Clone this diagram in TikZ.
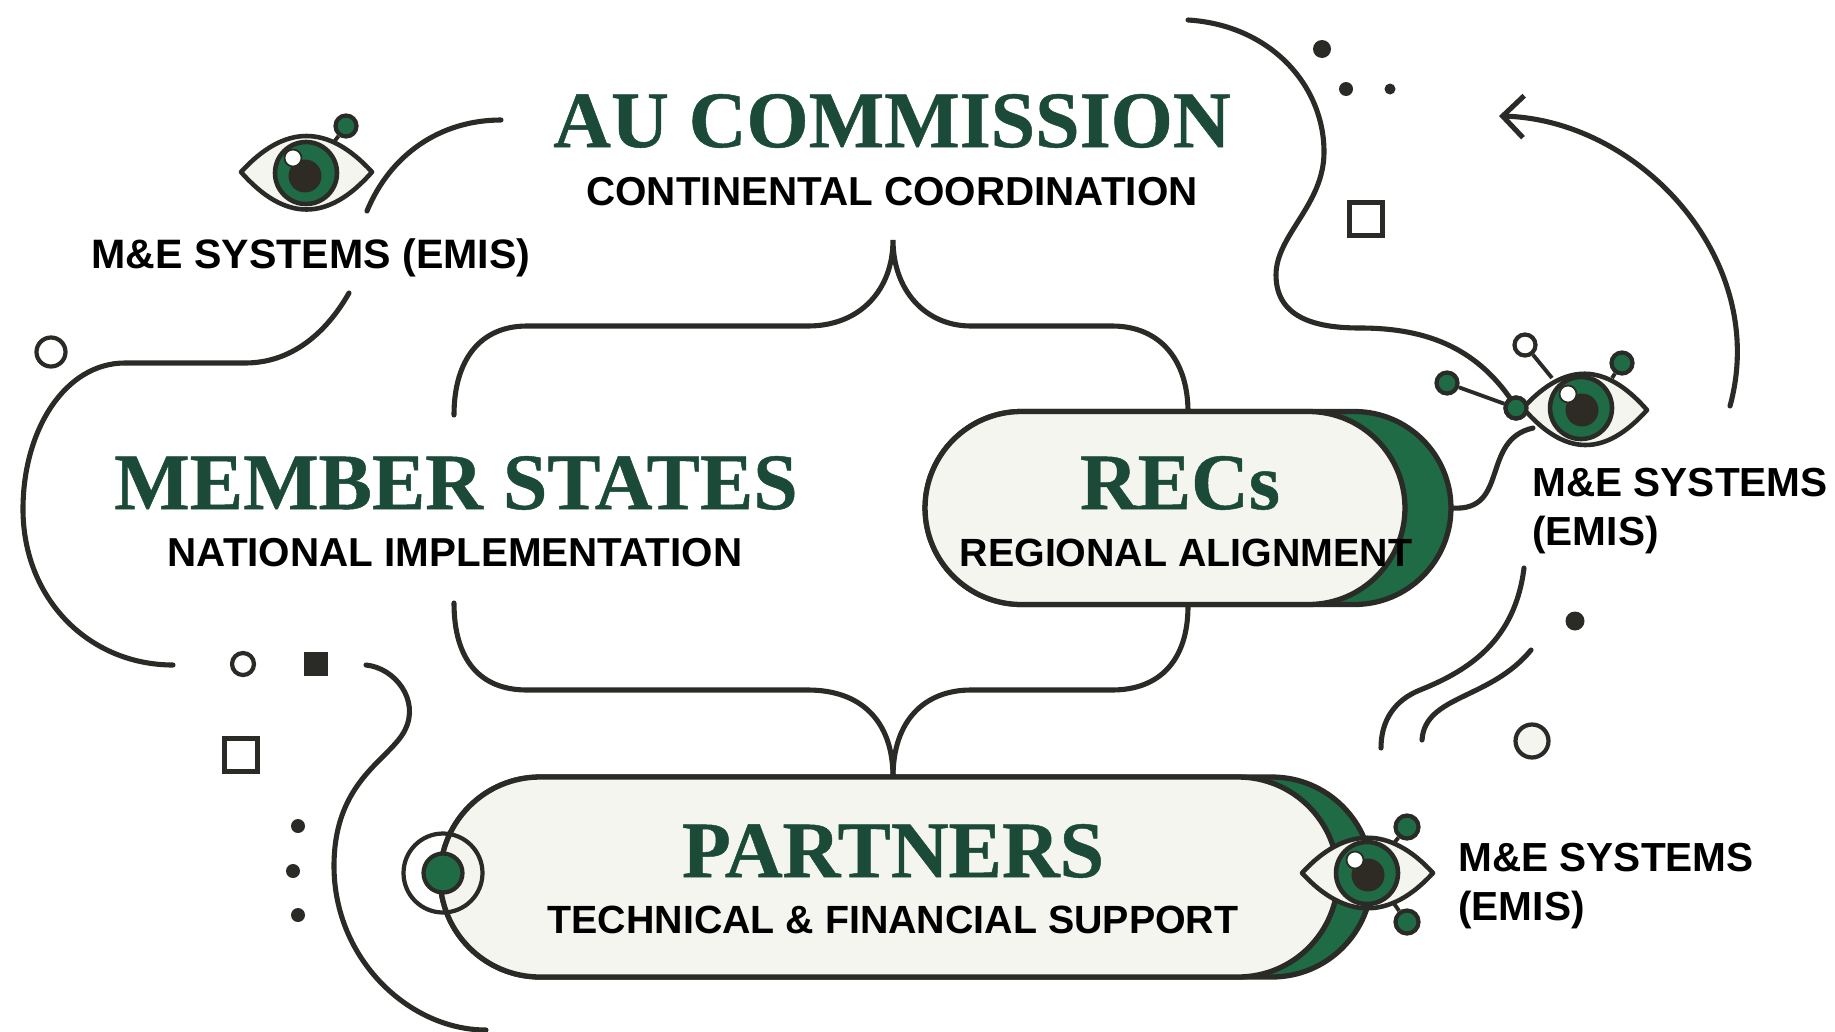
\documentclass[tikz,border=0pt]{standalone}
\usepackage{fontspec}
\setmainfont[BoldFeatures={FakeBold=0.6}]{Liberation Serif}
\setsansfont{Liberation Sans}
\usetikzlibrary{shapes.misc, arrows.meta}
\definecolor{inkline}{HTML}{2A2A26}
\definecolor{titlegreen}{HTML}{1C4A38}
\definecolor{irisgreen}{HTML}{1F6B45}
\definecolor{bodyfill}{HTML}{F5F5F0}
\definecolor{pupilfill}{HTML}{2E2A24}

\begin{document}
\begin{tikzpicture}[x = 0.02cm, y = -0.02cm,
                      curve/.style = {draw = inkline, line width = 2.9pt, line cap = round},
                      thinline/.style = {draw = inkline, line width = 2.2pt},
                      capsuleback/.style = {rounded rectangle, draw = inkline, fill = irisgreen, line width = 3pt, inner sep = 0pt},
                      capsule/.style = {rounded rectangle, draw = inkline, fill = bodyfill, line width = 3pt, inner sep = 0pt},
                      lens/.style = {draw = inkline, fill = bodyfill, line width = 2.6pt, line join = round},
                      iris/.style = {circle, draw = inkline, fill = irisgreen, line width = 2.6pt, minimum size = 1.24cm, inner sep = 0pt},
                      pupil/.style = {circle, fill = pupilfill, minimum size = 0.66cm, inner sep = 0pt},
                      glint/.style = {circle, draw = inkline, fill = white, line width = 1pt, minimum size = 0.34cm, inner sep = 0pt},
                      hub/.style = {circle, draw = inkline, fill = irisgreen, line width = 2.4pt, minimum size = 0.42cm, inner sep = 0pt},
                      hollow/.style = {circle, draw = inkline, fill = white, line width = 2.4pt, inner sep = 0pt},
                      solid/.style = {circle, fill = inkline, inner sep = 0pt},
                      boxmark/.style = {rectangle, draw = inkline, fill = white, line width = 2.4pt, inner sep = 0pt},
                      bigtitle/.style = {text = titlegreen, inner sep = 0pt, font = \bfseries\fontsize{45.5}{46}\selectfont},
                      subtitle/.style = {text = black, inner sep = 0pt, font = \sffamily\bfseries\fontsize{23}{23}\selectfont},
                      tightsub/.style = {text = black, inner sep = 0pt, font = \sffamily\bfseries\fontsize{22.4}{23}\selectfont},
                      sidelabel/.style = {text = black, inner sep = 0pt, font = \sffamily\bfseries\fontsize{23.4}{28}\selectfont},
                      sideblock/.style = {text = black, inner sep = 0pt, align = left, anchor = north west, font = \sffamily\bfseries\fontsize{23.1}{27.6}\selectfont}]
    \useasboundingbox (0, 0) rectangle (1835, 1031);

    % free ends of the lines
    \coordinate (topleft) at (454, 415);
    \coordinate (topright) at (1188, 412);
    \coordinate (toptip) at (893, 240);
    \coordinate (lowleft) at (454, 603);
    \coordinate (lowright) at (1188, 606);
    \coordinate (lowtip) at (893, 777);
    \coordinate (leftstart) at (349, 293);
    \coordinate (leftend) at (173, 665);
    \coordinate (arcstart) at (367, 211);
    \coordinate (arcend) at (501, 120);
    \coordinate (snakestart) at (1188, 20);
    \coordinate (arrowtip) at (1499, 116);
    \coordinate (arrowend) at (1730, 406);
    \coordinate (recsout) at (1452, 508);
    \coordinate (eyetail) at (1533, 428);
    \coordinate (waveone) at (1524, 568);
    \coordinate (waveonend) at (1381, 748);
    \coordinate (wavetwo) at (1531, 650);
    \coordinate (wavetwoend) at (1422, 740);
    \coordinate (lowstart) at (366, 665);
    \coordinate (lowend) at (486, 1030);

    % the two braces
    \draw [curve] (topleft) .. controls (454, 360) and (480, 326) .. (527, 326) -- (808, 326)
        .. controls (860, 326) and (893, 290) .. (toptip)
        .. controls (893, 290) and (925, 326) .. (971, 326) -- (1112, 326)
        .. controls (1160, 326) and (1188, 360) .. (topright);
    \draw [curve] (lowleft) .. controls (454, 660) and (480, 690) .. (527, 690) -- (808, 690)
        .. controls (860, 690) and (893, 720) .. (lowtip);
    \draw [curve] (lowright) .. controls (1188, 660) and (1160, 690) .. (1112, 690) -- (971, 690)
        .. controls (925, 690) and (893, 720) .. (lowtip);

    % long lines round the outside
    \draw [curve] (leftstart) .. controls (325, 335) and (290, 363) .. (245, 363) -- (125, 363)
        .. controls (65, 363) and (23, 430) .. (23, 509)
        .. controls (23, 600) and (90, 665) .. (leftend);
    \draw [curve] (arcstart) .. controls (390, 155) and (440, 120) .. (arcend);
    \draw [curve] (snakestart) .. controls (1270, 25) and (1324, 85) .. (1324, 152)
        .. controls (1324, 205) and (1276, 235) .. (1276, 275)
        .. controls (1276, 320) and (1320, 328) .. (1360, 328)
        .. controls (1430, 328) and (1480, 350) .. (1516, 407);
    \draw [curve, arrows = {Straight Barb[length = 0.42cm, width = 0.84cm, line width = 2.9pt]-}] (arrowtip)
        .. controls (1640, 120) and (1770, 260) .. (arrowend);
    \draw [curve] (recsout) .. controls (1510, 512) and (1480, 440) .. (eyetail);
    \draw [curve] (waveone) .. controls (1515, 640) and (1470, 670) .. (1420, 690)
        .. controls (1395, 700) and (1381, 720) .. (waveonend);
    \draw [curve] (wavetwo) .. controls (1490, 700) and (1425, 695) .. (wavetwoend);
    \draw [curve] (lowstart) .. controls (395, 668) and (420, 700) .. (405, 730)
        .. controls (390, 760) and (334, 780) .. (334, 866)
        .. controls (334, 960) and (410, 1030) .. (lowend);

    % capsules
    \node [capsuleback, minimum width = 10.52cm, minimum height = 3.86cm] (recsback) at (1188, 508){};
    \node [capsule, minimum width = 9.6cm, minimum height = 3.86cm] (recsbody) at (1165, 508){};
    \node [capsuleback, minimum width = 18.64cm, minimum height = 4.0cm] (partnersback) at (906, 877){};
    \node [capsule, minimum width = 17.96cm, minimum height = 4.0cm] (partnersbody) at (889, 877){};

    % target on the left of the partners capsule
    \node [circle, draw = inkline, line width = 2.4pt, minimum size = 1.58cm, inner sep = 0pt] (targetring) at (443, 873){};
    \node [hub, minimum size = 0.78cm] (targetdot) at (443, 873){};

    % eye of the commission
    \node [hub] (lefthub) at (346, 126){};
    \draw [thinline] (lefthub) -- (331, 146);
    \draw [lens] (241, 172) .. controls (285, 124) and (328, 124) .. (372, 172)
        .. controls (328, 222) and (285, 222) .. cycle;
    \node [iris] (leftiris) at (306, 173){};
    \node [pupil] (leftpupil) at (305, 176){};
    \node [glint] (leftglint) at (293, 158){};

    % eye of the RECs
    \node [hub] (righthub) at (1516, 408){};
    \node [hub] (rightnear) at (1447, 383){};
    \node [hollow, minimum size = 0.42cm] (rightopen) at (1525, 345){};
    \node [hub] (rightfar) at (1622, 363){};
    \draw [thinline] (rightnear) -- (righthub);
    \draw [thinline] (rightopen) -- (1552, 378);
    \draw [thinline] (rightfar) -- (1612, 378);
    \draw [lens] (1523, 408) .. controls (1565, 362) and (1605, 362) .. (1647, 410)
        .. controls (1605, 457) and (1565, 457) .. cycle;
    \node [hub] (righthubtop) at (1516, 408){};
    \node [iris] (rightiris) at (1581, 408){};
    \node [pupil] (rightpupil) at (1582, 410){};
    \node [glint] (rightglint) at (1568, 394){};

    % eye of the partners
    \node [hub, minimum size = 0.46cm] (lowhubup) at (1407, 827){};
    \node [hub, minimum size = 0.46cm] (lowhubdown) at (1407, 922){};
    \draw [thinline] (lowhubup) -- (1390, 848);
    \draw [thinline] (lowhubdown) -- (1390, 898);
    \draw [lens] (1302, 873) .. controls (1345, 826) and (1390, 826) .. (1433, 873)
        .. controls (1390, 920) and (1345, 920) .. cycle;
    \node [iris] (lowiris) at (1367, 873){};
    \node [pupil] (lowpupil) at (1368, 875){};
    \node [glint] (lowglint) at (1355, 860){};

    % small marks
    \node [solid, minimum size = 0.36cm] (dota) at (1322, 49){};
    \node [solid, minimum size = 0.28cm] (dotb) at (1346, 89){};
    \node [solid, minimum size = 0.22cm] (dotc) at (1390, 89){};
    \node [boxmark, minimum size = 0.66cm] (boxa) at (1366, 219){};
    \node [solid, minimum size = 0.38cm] (dotd) at (1575, 621){};
    \node [hollow, fill = bodyfill, minimum size = 0.66cm] (ringa) at (1532, 741){};
    \node [hollow, minimum size = 0.58cm] (ringb) at (51, 352){};
    \node [hollow, minimum size = 0.44cm] (ringc) at (243, 664){};
    \node [solid, rectangle, minimum size = 0.48cm] (boxb) at (316, 664){};
    \node [boxmark, minimum size = 0.66cm] (boxc) at (241, 755){};
    \node [solid, minimum size = 0.28cm] (dote) at (298, 826){};
    \node [solid, minimum size = 0.28cm] (dotf) at (293, 871){};
    \node [solid, minimum size = 0.28cm] (dotg) at (298, 915){};

    % texts
    \node [bigtitle] (autitle) at (892, 121) {AU COMMISSION};
    \node [subtitle] (ausub) at (892, 192) {CONTINENTAL COORDINATION};
    \node [bigtitle] (mstitle) at (456, 483) {MEMBER STATES};
    \node [subtitle] (mssub) at (455, 553) {NATIONAL IMPLEMENTATION};
    \node [bigtitle] (recstitle) at (1180, 483) {RECs};
    \node [tightsub] (recssub) at (1186, 553) {REGIONAL ALIGNMENT};
    \node [bigtitle] (partnerstitle) at (893, 851) {PARTNERS};
    \node [tightsub] (partnerssub) at (893, 920) {TECHNICAL \& FINANCIAL SUPPORT};
    \node [sidelabel] (emisa) at (311, 258) {M\&E SYSTEMS (EMIS)};
    \node [sideblock] (emisb) at (1532, 468) {M\&E SYSTEMS\\(EMIS)};
    \node [sideblock] (emisc) at (1458, 843) {M\&E SYSTEMS\\(EMIS)};
\end{tikzpicture}
\end{document}
